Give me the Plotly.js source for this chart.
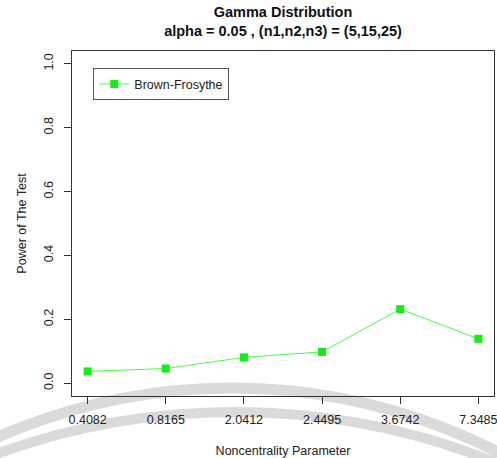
<!DOCTYPE html>
<html>
<head>
<meta charset="utf-8">
<script src="https://cdn.plot.ly/plotly-3.0.1.min.js"></script>
<style>html,body{margin:0;padding:0;background:#fff;}#chart{width:497px;height:458px;}</style>
</head>
<body>
<div id="chart"></div>
<script>
// Data
const categories = ["0.4082", "0.8165", "2.0412", "2.4495", "3.6742", "7.3485"];
const powerBF = [0.037, 0.046, 0.081, 0.098, 0.232, 0.139];
const seriesName = "Brown-Frosythe";
const yTickVals = [0.0, 0.2, 0.4, 0.6, 0.8, 1.0];

const FONT = "Liberation Sans, Arial, sans-serif";

// plot area geometry in pixels (for watermark arcs)
const L = 72, R = 494, T = 51, B = 396;
function px2x(p){ return (p - L) / (R - L); }
function px2y(p){ return (B - p) / (B - T); }
function circ(cx, top, r, w){
  return {type:'circle', xref:'paper', yref:'paper', layer:'below',
    x0: px2x(cx - r), x1: px2x(cx + r), y0: px2y(top + 2*r), y1: px2y(top),
    line:{color:'#dadada', width:w}, fillcolor:'rgba(0,0,0,0)'};
}

const trace = {
  x: categories,
  y: powerBF,
  type: 'scatter',
  mode: 'lines+markers',
  name: seriesName,
  line: {color: '#44ff44', width: 1},
  marker: {color: '#11ee11', symbol: 'square', size: 8}
};

const layout = {
  width: 497, height: 458,
  margin: {l: L, r: 497 - R, t: T, b: 458 - B},
  paper_bgcolor: '#ffffff',
  plot_bgcolor: 'rgba(0,0,0,0)',
  font: {family: FONT, size: 12.5, color: '#222'},
  title: {
    text: '<b>Gamma Distribution</b><br><b>alpha = 0.05 , (n1,n2,n3) = (5,15,25)</b>',
    font: {family: FONT, size: 14.5, color: '#111'},
    x: 0.5, xref: 'paper', xanchor: 'center',
    y: 0.962, yref: 'container', yanchor: 'top'
  },
  xaxis: {
    type: 'category',
    range: [-0.2, 5.2],
    showgrid: false, zeroline: false,
    showline: true, mirror: true, linecolor: '#333', linewidth: 1,
    ticks: 'outside', ticklen: 7, tickcolor: '#333',
    ticklabelstandoff: 5,
    title: {text: 'Noncentrality Parameter', font: {family: FONT, size: 12.5, color: '#222'}, standoff: 21},
    automargin: false
  },
  yaxis: {
    range: [-0.04, 1.04],
    tickvals: yTickVals,
    tickformat: '.1f',
    tickangle: -90,
    showgrid: false, zeroline: false,
    showline: true, mirror: true, linecolor: '#333', linewidth: 1,
    ticks: 'outside', ticklen: 7, tickcolor: '#333',
    ticklabelstandoff: 6,
    title: {text: 'Power of The Test', font: {family: FONT, size: 12.5, color: '#222'}, standoff: 12},
    automargin: false
  },
  showlegend: true,
  legend: {
    x: px2x(93.3), y: px2y(68.3), xanchor: 'left', yanchor: 'top',
    bgcolor: '#ffffff', bordercolor: '#555', borderwidth: 1,
    font: {family: FONT, size: 12.5, color: '#222'}
  },
  shapes: [circ(232, 388, 583, 11), circ(235, 412, 700, 10)]
};

Plotly.newPlot('chart', [trace], layout, {displayModeBar: false, staticPlot: true});
</script>
</body>
</html>
